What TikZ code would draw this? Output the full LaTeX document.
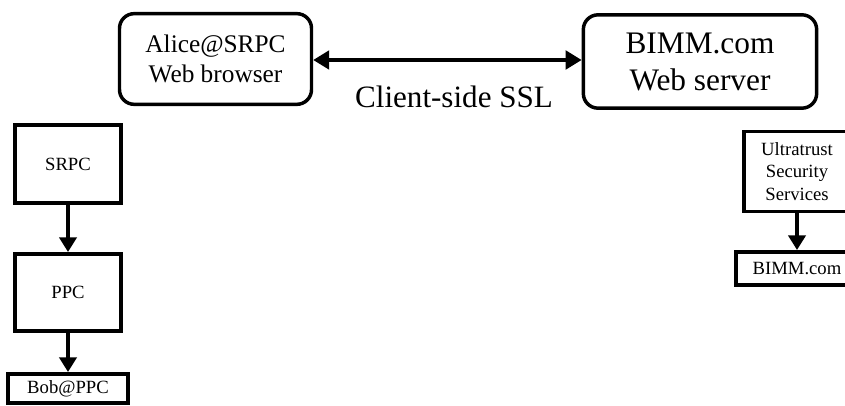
\documentclass[tikz,border=0pt]{standalone}
\usepackage{fontspec}
\setmainfont{Liberation Serif}
\usetikzlibrary{arrows.meta}

\tikzset{
  roundbox/.style={draw, line width=2.6pt, rounded corners=11pt, inner sep=0pt, align=center},
  plainbox/.style={draw, line width=2.8pt, inner sep=0pt, align=center,
    font=\fontsize{14}{17}\selectfont},
  link/.style={line width=2.4pt, -{Triangle[length=11pt,width=13pt]}},
  dlink/.style={line width=2.4pt, {Triangle[length=12pt,width=14pt]}-{Triangle[length=12pt,width=14pt]}}
}

\begin{document}
\begin{tikzpicture}[x=0.75pt,y=-0.75pt]
  \useasboundingbox (0,0) rectangle (845,406);
  \clip (0,0) rectangle (845,406);

  % top: browser and server joined by SSL
  \node[roundbox, minimum width=144pt, minimum height=68pt,
        font=\fontsize{19}{22.5}\selectfont] (alice) at (215.5,59) {Alice@SRPC\\Web browser};
  \node[roundbox, minimum width=175pt, minimum height=70pt,
        font=\fontsize{23.5}{27.75}\selectfont] (bimm) at (700,61.5) {BIMM.com\\Web server};
  \draw[dlink] (alice.east |- 0,60) -- (bimm.west |- 0,60);
  \node[font=\fontsize{23.3}{28}\selectfont] (ssl) at (454,97) {Client-side SSL};

  % left chain of certificates
  \node[plainbox, minimum width=79pt, minimum height=59pt] (srpc) at (68,164) {SRPC};
  \node[plainbox, minimum width=79pt, minimum height=58pt] (ppc) at (68,292.5) {PPC};
  \node[plainbox, minimum width=90pt, minimum height=22pt] (bob) at (68,388.5) {Bob@PPC};
  \draw[link] (srpc) -- (ppc);
  \draw[link] (ppc) -- (bob);

  % right chain of certificates
  \node[plainbox, minimum width=80pt, minimum height=60pt] (ultra) at (797,171.5) {Ultratrust\\Security\\Services};
  \node[plainbox, minimum width=92pt, minimum height=25pt] (bimmc) at (797,268.5) {BIMM.com};
  \draw[link] (ultra) -- (bimmc);
\end{tikzpicture}
\end{document}
